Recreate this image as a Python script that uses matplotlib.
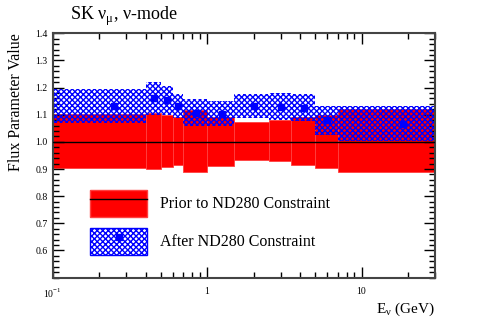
import numpy as np
import matplotlib
matplotlib.use("Agg")
import matplotlib.pyplot as plt
from matplotlib.patches import Patch
from matplotlib.lines import Line2D
from matplotlib.ticker import FixedLocator, NullFormatter, MultipleLocator

# -- data

bin_edges = [0.1, 0.4, 0.5, 0.6, 0.7, 1.0, 1.5, 2.5, 3.5, 5.0, 7.0, 30.0]
prior_center = 1.0
prior_low = [0.904, 0.900, 0.907, 0.916, 0.889, 0.910, 0.932, 0.928, 0.915, 0.905, 0.889]
prior_high = [1.104, 1.107, 1.099, 1.091, 1.116, 1.093, 1.073, 1.079, 1.091, 1.101, 1.120]
post_center = [1.133, 1.160, 1.153, 1.132, 1.107, 1.104, 1.132, 1.130, 1.126, 1.080, 1.067]
post_low = [1.068, 1.098, 1.100, 1.089, 1.060, 1.058, 1.089, 1.080, 1.076, 1.027, 1.002]
post_high = [1.196, 1.222, 1.206, 1.175, 1.157, 1.149, 1.175, 1.179, 1.175, 1.134, 1.132]

plt.rcParams['font.family'] = ['Liberation Serif', 'DejaVu Serif']
plt.rcParams['hatch.linewidth'] = 1.0
plt.rcParams['mathtext.fontset'] = 'custom'
plt.rcParams['mathtext.rm'] = 'Liberation Serif'

edges = np.array(bin_edges)
lefts = edges[:-1]
widths = np.diff(edges)
centers = lefts + widths / 2.0

fig = plt.figure(figsize=(4.83, 3.27), dpi=100)
ax = fig.add_axes([0.109, 0.151, 0.792, 0.747])

# prior band
ax.bar(lefts, np.array(prior_high) - np.array(prior_low), width=widths,
       bottom=prior_low, align='edge', color='#ff0000', edgecolor='#ff4040',
       linewidth=0.6, zorder=1)

# after ND280 band (hatched)
ax.bar(lefts, np.array(post_high) - np.array(post_low), width=widths,
       bottom=post_low, align='edge', facecolor='none', edgecolor='#0000ff',
       hatch='xxxxxx', linewidth=0, zorder=2)

ax.axhline(prior_center, color='black', linewidth=1.0, zorder=3)
ax.plot(centers, post_center, 's', color='#0000ff', markersize=4, zorder=4)

ax.set_xscale('log')
ax.set_xlim(0.1, 30)
ax.set_ylim(0.5, 1.4)

ax.xaxis.set_major_locator(FixedLocator([0.1, 1, 10]))
ax.set_xticklabels([r'10$^{\mathregular{-1}}$', '1', '10'])
ax.xaxis.set_minor_locator(FixedLocator(
    [k * 10.0 ** d for d in (-1, 0, 1) for k in range(2, 10) if k * 10.0 ** d <= 30]))
ax.xaxis.set_minor_formatter(NullFormatter())
ax.yaxis.set_major_locator(FixedLocator([0.6, 0.7, 0.8, 0.9, 1.0, 1.1, 1.2, 1.3, 1.4]))
ax.set_yticklabels(['0.6', '0.7', '0.8', '0.9', '1.0', '1.1', '1.2', '1.3', '1.4'])
ax.yaxis.set_minor_locator(MultipleLocator(0.02))

ax.tick_params(which='both', direction='in', top=True, right=True, labelsize=7)
ax.tick_params(which='major', length=8, width=1.0)
ax.tick_params(which='minor', length=4, width=1.0)
ax.tick_params(axis='x', which='major', pad=7)
for sp in ax.spines.values():
    sp.set_linewidth(1.5)
    sp.set_color('#444444')

ax.set_ylabel('Flux Parameter Value', fontsize=11.5, loc='top', labelpad=8)
ax.set_xlabel(r'E$_{\mathregular{ν}}$ (GeV)', fontsize=11, loc='right', labelpad=0)
fig.text(0.145, 0.94, r'SK ν$_{\mathregular{μ}}$, ν-mode', fontsize=13)

prior_h = (Patch(facecolor='#ff0000', edgecolor='#ff4040'),
           Line2D([], [], color='black', linewidth=1.0))
post_h = (Patch(facecolor='none', edgecolor='#0000ff', hatch='xxxxxx', linewidth=1),
          Line2D([], [], marker='s', color='#0000ff', markersize=4, linestyle='none'))
ax.legend([prior_h, post_h], ['Prior to ND280 Constraint', 'After ND280 Constraint'],
          loc='lower left', bbox_to_anchor=(0.06, 0.035), frameon=False,
          fontsize=11.5, handlelength=3.6, handleheight=2.2, labelspacing=0.7,
          handletextpad=0.8)

fig.savefig('out.png', dpi=100)
